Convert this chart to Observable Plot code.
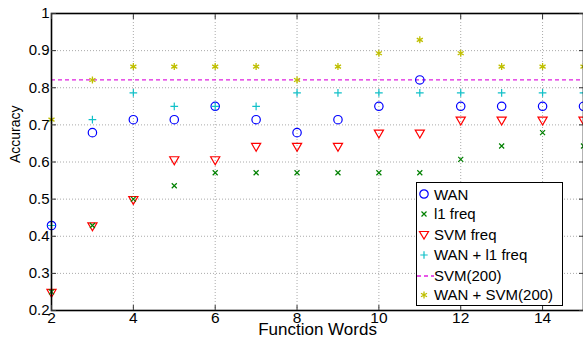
<!DOCTYPE html>
<html>
<head>
<meta charset="utf-8">
<script src="https://cdn.jsdelivr.net/npm/d3@7"></script>
<script src="https://cdn.jsdelivr.net/npm/@observablehq/plot@0.6"></script>
<style>
  body { margin: 0; background: #fff; }
  #wrap { position: relative; width: 583px; height: 341px; font-family: "Liberation Sans", Arial, sans-serif; overflow: hidden; }
  #legend { position: absolute; left: 416px; top: 182px; width: 147px; height: 124px; border: 1.3px solid #000; background: #fff; box-sizing: border-box; }
  .row { position: absolute; left: -3px; height: 20px; display: flex; align-items: center; font-size: 15px; color: #000; white-space: nowrap; }
  .row svg { width: 20px; height: 20px; flex: none; }
</style>
</head>
<body>
<div id="wrap"></div>
<script>
const functionWords = [2, 3, 4, 5, 6, 7, 8, 9, 10, 11, 12, 13, 14, 15];
const wan      = [0.429, 0.679, 0.714, 0.714, 0.750, 0.714, 0.679, 0.714, 0.750, 0.821, 0.750, 0.750, 0.750, 0.750];
const l1Freq   = [0.250, 0.429, 0.500, 0.536, 0.571, 0.571, 0.571, 0.571, 0.571, 0.571, 0.607, 0.643, 0.679, 0.643];
const svmFreq  = [0.250, 0.429, 0.500, 0.607, 0.607, 0.643, 0.643, 0.643, 0.679, 0.679, 0.714, 0.714, 0.714, 0.714];
const wanL1    = [0.429, 0.714, 0.786, 0.750, 0.750, 0.750, 0.786, 0.786, 0.786, 0.786, 0.786, 0.786, 0.786, 0.786];
const svm200   = 0.821;
const wanSvm   = [0.714, 0.821, 0.857, 0.857, 0.857, 0.857, 0.821, 0.857, 0.893, 0.929, 0.893, 0.857, 0.857, 0.857];
const xTicks = [2, 4, 6, 8, 10, 12, 14];
const yTicks = [0.2, 0.3, 0.4, 0.5, 0.6, 0.7, 0.8, 0.9, 1];
const seriesNames = ["WAN", "l1 freq", "SVM freq", "WAN + l1 freq", "SVM(200)", "WAN + SVM(200)"];

const colors = {blue: "#0000ff", green: "#008000", red: "#ff0000", cyan: "#10c0c8", magenta: "#e020e0", olive: "#bfbf00"};

const rows = (vals) => functionWords.map((x, i) => ({x, y: vals[i]}));
const yFmt = d => d === 1 ? "1" : d3.format(".1f")(d);

const chart = Plot.plot({
  width: 583,
  height: 341,
  marginLeft: 51,
  marginRight: 0,
  marginTop: 13,
  marginBottom: 31,
  style: {fontFamily: "Liberation Sans, Arial, sans-serif", fontSize: "15px", background: "#fff", overflow: "visible"},
  x: {domain: [2, 15]},
  y: {domain: [0.2, 1]},
  marks: [
    Plot.gridX(xTicks, {stroke: "#aaa", strokeOpacity: 1, strokeDasharray: "1,2"}),
    Plot.gridY(yTicks, {stroke: "#aaa", strokeOpacity: 1, strokeDasharray: "1,2"}),
    Plot.ruleY([svm200], {x1: 2, x2: 15, stroke: colors.magenta, strokeWidth: 1.3, strokeDasharray: "4,3"}),
    Plot.dot(rows(svmFreq), {x: "x", y: "y", symbol: "triangle", rotate: 180, r: 3.4, stroke: colors.red, strokeWidth: 1.2}),
    Plot.dot(rows(l1Freq), {x: "x", y: "y", symbol: "times", r: 2.4, stroke: colors.green, strokeWidth: 1.2}),
    Plot.dot(rows(wan), {x: "x", y: "y", symbol: "circle", r: 4.2, stroke: colors.blue, strokeWidth: 1.2}),
    Plot.dot(rows(wanL1), {x: "x", y: "y", symbol: "plus", r: 2.6, stroke: colors.cyan, strokeWidth: 1.2}),
    Plot.dot(rows(wanSvm), {x: "x", y: "y", symbol: "asterisk", r: 3.3, stroke: colors.olive, strokeWidth: 1.3}),
    Plot.frame({stroke: "#000", strokeWidth: 1.6}),
    Plot.axisX({ticks: xTicks, tickSize: -5, tickPadding: 6.5, tickFormat: d3.format("d"), label: null, stroke: "#333", fill: "#000", fontSize: 15.5}),
    Plot.axisX({ticks: xTicks, anchor: "top", tickSize: -5, tickFormat: () => "", label: null, stroke: "#333"}),
    Plot.axisY({ticks: yTicks, tickSize: -5, tickPadding: 7, tickFormat: yFmt, label: null, stroke: "#333", fill: "#000", fontSize: 15}),
    Plot.axisY({ticks: yTicks, anchor: "right", tickSize: -5, tickFormat: () => "", label: null, stroke: "#333"}),
    Plot.text(["Function Words"], {frameAnchor: "bottom", dx: 0, dy: 24.5, fontSize: 17, fill: "#000"}),
    Plot.text(["Accuracy"], {frameAnchor: "left", dx: -36, dy: 1, rotate: -90, fontSize: 14, fill: "#000"})
  ]
});

const wrap = document.getElementById("wrap");
wrap.appendChild(chart);

// legend
const sym = {
  "WAN": `<circle cx="10" cy="10" r="4.2" fill="none" stroke="${colors.blue}" stroke-width="1.2"/>`,
  "l1 freq": `<path d="M7.5,7.5L12.5,12.5M7.5,12.5L12.5,7.5" stroke="${colors.green}" stroke-width="1.2"/>`,
  "SVM freq": `<path d="M5.5,7.5L14.5,7.5L10,15Z" fill="none" stroke="${colors.red}" stroke-width="1.2"/>`,
  "WAN + l1 freq": `<path d="M10,6.3V13.7M6.3,10H13.7" stroke="${colors.cyan}" stroke-width="1.2"/>`,
  "SVM(200)": `<path d="M3,10H20" stroke="${colors.magenta}" stroke-width="1.3" stroke-dasharray="4,3"/>`,
  "WAN + SVM(200)": `<path d="M10,6.5V13.5M7,8.3L13,11.7M7,11.7L13,8.3" stroke="${colors.olive}" stroke-width="1.3"/>`
};
const legend = document.createElement("div");
legend.id = "legend";
const tops = [1, 20.5, 41, 61.5, 82.5, 101.5];
seriesNames.forEach((name, i) => {
  const r = document.createElement("div");
  r.className = "row";
  r.style.top = tops[i] + "px";
  r.innerHTML = `<svg viewBox="0 0 20 20">${sym[name]}</svg><span>${name}</span>`;
  legend.appendChild(r);
});
wrap.appendChild(legend);
</script>
</body>
</html>
